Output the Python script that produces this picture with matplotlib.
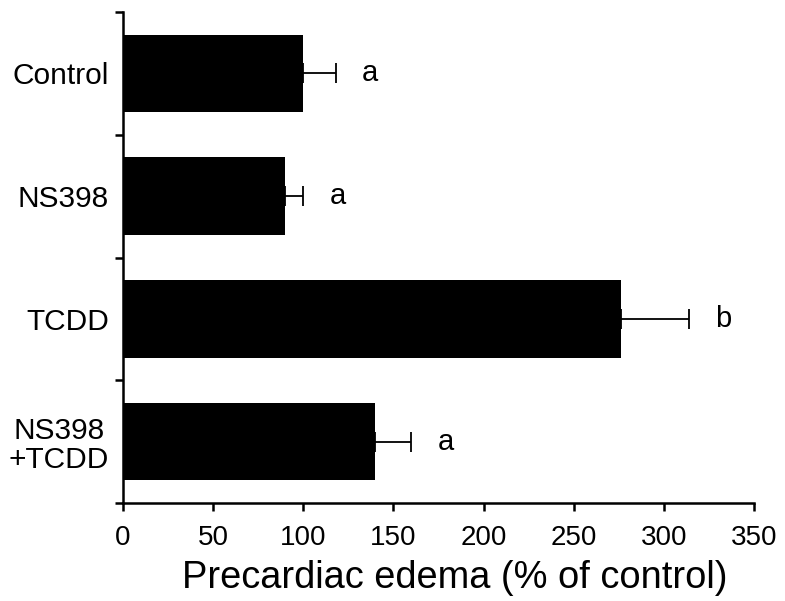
import matplotlib.pyplot as plt

plt.rcParams['font.family'] = ['Liberation Sans', 'DejaVu Sans']

# data
groups = ["Control", "NS398", "TCDD", "NS398\n+TCDD"]
edema = [100, 90, 276, 140]
sem = [18, 10, 38, 20]
letters = ["a", "a", "b", "a"]

fig = plt.figure(figsize=(7.85, 6.01), dpi=100)
ax = fig.add_axes([0.1567, 0.163, 0.8038, 0.817])

pos = list(range(len(groups)))
ax.barh(pos, edema, height=0.63, color='black',
        xerr=[[0] * len(sem), sem], error_kw=dict(ecolor='black', elinewidth=1.3, capsize=7, capthick=1.3))

# significance letters just past the error bars
for p, v, e, l in zip(pos, edema, sem, letters):
    ax.text(v + e + 19, p, l, fontsize=21, ha='center', va='center')

ax.set_ylim(3.5, -0.5)
ax.set_xlim(0, 350)
ax.set_xticks(range(0, 351, 50))
ax.set_yticks([p - 0.5 for p in pos] + [3.5])
ax.set_yticklabels([])
ax.set_yticks(pos, minor=True)
ax.set_yticklabels(groups, minor=True, fontsize=21.5, multialignment='center', linespacing=1.05)
ax.tick_params(axis='y', which='minor', length=0, pad=10)
ax.tick_params(axis='y', which='major', length=6, width=1.8)
ax.tick_params(axis='x', length=6, width=1.8, labelsize=20, pad=10)
ax.set_xlabel("Precardiac edema (% of control)", fontsize=27.4, labelpad=9)
ax.xaxis.set_label_coords(0.525, -0.115)

for s in ['top', 'right']:
    ax.spines[s].set_visible(False)
for s in ['left', 'bottom']:
    ax.spines[s].set_linewidth(1.8)

fig.savefig("out.png", dpi=100)
